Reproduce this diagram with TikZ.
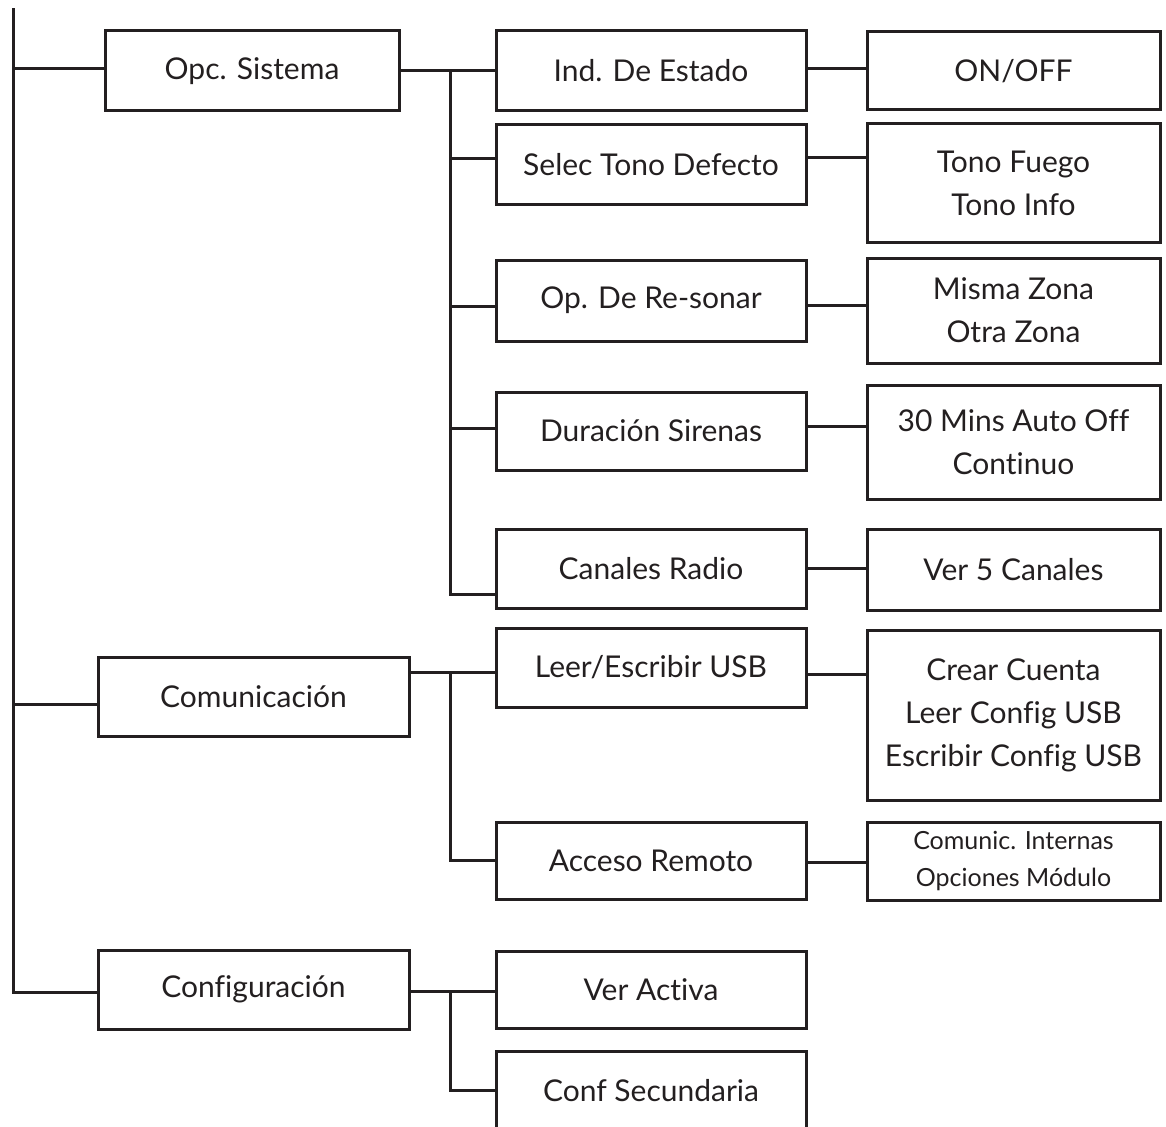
\documentclass[tikz,border=0pt]{standalone}
\usepackage{fontspec}
\setmainfont{Lato}[Ligatures=NoCommon]
\usepackage{tikz}
\usepackage{xcolor}

\definecolor{ink}{HTML}{231F20}

\begin{document}
\begin{tikzpicture}[x=1pt, y=-1pt, line width=3pt, color=ink,
  box/.style={draw, rectangle, align=center, inner sep=0pt,
    font=\fontsize{30}{43}\selectfont},
  small/.style={font=\fontsize{25}{37}\selectfont}]
  \useasboundingbox (0,0) rectangle (1166,1126);

  % first level
  \node[box, minimum width=294pt, minimum height=80pt] (sys) at (252,71) {Opc. Sistema};
  \node[box, minimum width=311pt, minimum height=79pt] (com) at (253.5,696.5) {Comunicación};
  \node[box, minimum width=311pt, minimum height=79pt] (cfg) at (253.5,989.5) {Configuración};

  % second level
  \foreach \name/\y/\h/\txt in {est/71/80/{Ind. De Estado}, tono/164.5/79/{Selec Tono Defecto},
      reson/300.5/81/{Op. De Re-sonar}, sir/431/78/{Duración Sirenas},
      radio/568.5/79/{Canales Radio}, usb/667.5/79/{Leer/Escribir USB},
      remoto/860.5/77/{Acceso Remoto}, activa/989.5/77/{Ver Activa},
      secund/1090.5/79/{Conf Secundaria}} {
    \node[box, minimum width=310pt, minimum height=\h pt] (\name) at (651,\y) {\txt};
  }

  % third level
  \foreach \name/\y/\h/\txt in {onoff/71/78/{ON/OFF}, tonos/183/118/{Tono Fuego\\Tono Info},
      zona/310.5/105/{Misma Zona\\Otra Zona}, dur/442/114/{30 Mins Auto Off\\Continuo},
      canales/569.5/81/{Ver 5 Canales},
      cuenta/715/170/{Crear Cuenta\\Leer Config USB\\Escribir Config USB}} {
    \node[box, minimum width=293pt, minimum height=\h pt] (\name) at (1013.5,\y) {\txt};
  }
  \node[box, small, minimum width=293pt, minimum height=78pt] (modulo) at (1013.5,861)
    {Comunic. Internas\\Opciones Módulo};

  % trunk on the left
  \coordinate (root) at (13,8);
  \draw ([yshift=-2.5pt]cfg.west) -| (root);
  \draw ([yshift=2pt]sys.west) -| (root);
  \draw ([yshift=-7.5pt]com.west) -| (root);

  % first level to second level
  \coordinate (b1) at (450,71);
  \coordinate (b2) at (450,672);
  \coordinate (b3) at (450,991);
  \draw (sys.east) -- (est.west);
  \foreach \n/\s in {tono/5.5, reson/-5.5, sir/3, radio/-25.5}
    \draw ([yshift=\s pt]\n.west) -| (b1);
  \draw ([yshift=24.5pt]com.east) -- ([yshift=24.5pt]com.east -| usb.west);
  \draw (remoto.west) -| (b2);
  \draw ([yshift=-1.5pt]cfg.east) -- ([yshift=-1.5pt]cfg.east -| activa.west);
  \draw (secund.west) -| (b3);

  % second level to third level
  \foreach \a/\b/\s in {est/onoff/2, tono/tonos/6.5, reson/zona/-4.5, sir/dur/5,
      radio/canales/0, usb/cuenta/-6.5, remoto/modulo/-1.5}
    \draw ([yshift=\s pt]\a.east) -- ([yshift=\s pt]\a.east -| \b.west);
\end{tikzpicture}
\end{document}
